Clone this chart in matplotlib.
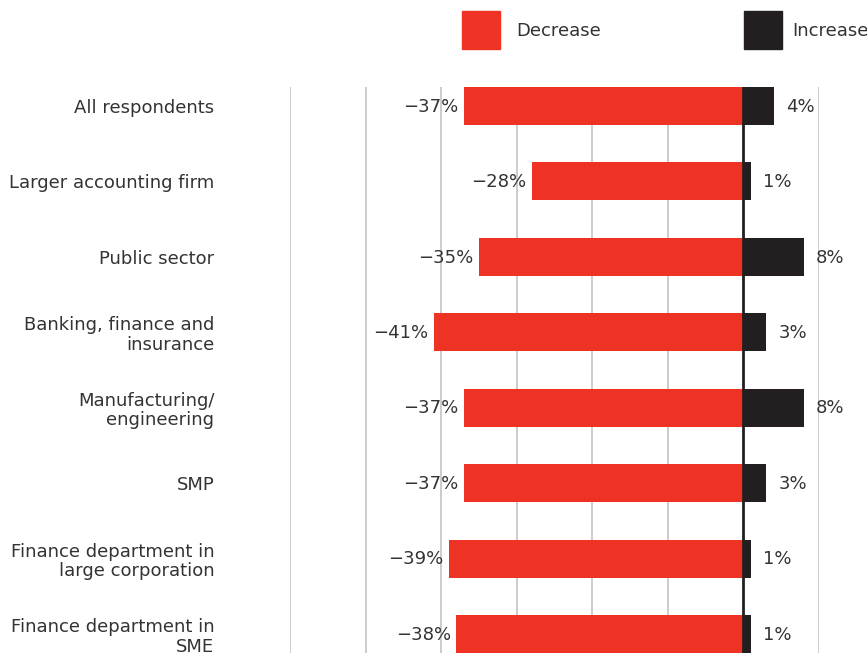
import numpy as np
import matplotlib.pyplot as plt
from matplotlib.patches import Rectangle

# カテゴリと値（%）
categories = [
    "All respondents",
    "Larger accounting firm",
    "Public sector",
    "Banking, finance and\ninsurance",
    "Manufacturing/\nengineering",
    "SMP",
    "Finance department in\nlarge corporation",
    "Finance department in\nSME",
]
decrease = [-37, -28, -35, -41, -37, -37, -39, -38]
increase = [4, 1, 8, 3, 8, 3, 1, 1]
grid_ticks = [-60, -50, -40, -30, -20, -10, 10]

RED = "#ee3224"
DARK = "#231f20"
TEXT = "#333333"
GRID = "#c8c8c8"
FS = 13

plt.rcParams['font.family'] = ['DejaVu Sans']

fig = plt.figure(figsize=(8.67, 6.56), dpi=100)
ax = fig.add_axes([290 / 867, 3 / 656, 529 / 867, 566 / 656])

y = np.arange(len(categories))

# グリッド線
for t in grid_ticks:
    ax.axvline(t, color=GRID, lw=1.3, zorder=0)

ax.barh(y, decrease, height=0.5, color=RED, zorder=2)
ax.barh(y, increase, height=0.5, color=DARK, zorder=2)
ax.axvline(0, color=DARK, lw=2, zorder=3)

# 値ラベル
for yi, d, inc in zip(y, decrease, increase):
    ax.text(d - 0.7, yi + 0.01, "\u2212%d%%" % abs(d), ha="right", va="center",
            fontsize=FS, color=TEXT, zorder=4)
    ax.text(inc + 1.6, yi + 0.01, "%d%%" % inc, ha="left", va="center",
            fontsize=FS, color=TEXT, zorder=4)

ax.set_xlim(-60, 10)
ax.set_ylim(len(categories) - 0.75, -0.25)
ax.set_yticks(y)
ax.set_yticklabels(categories, fontsize=FS, color=TEXT, ha="right",
                   linespacing=1.1)
ax.tick_params(axis="y", length=0, pad=54.5)
ax.set_xticks([])
for s in ax.spines.values():
    s.set_visible(False)

# 凡例
fig.patches.append(Rectangle((462 / 867, 1 - 49 / 656), 38 / 867, 38 / 656,
                             transform=fig.transFigure, color=RED))
fig.text(516 / 867, 1 - 31 / 656, "Decrease", ha="left", va="center",
         fontsize=FS, color=TEXT)
fig.patches.append(Rectangle((744 / 867, 1 - 49 / 656), 38 / 867, 38 / 656,
                             transform=fig.transFigure, color=DARK))
fig.text(792 / 867, 1 - 31 / 656, "Increase", ha="left", va="center",
         fontsize=FS, color=TEXT)

fig.savefig("out.png", dpi=100)
